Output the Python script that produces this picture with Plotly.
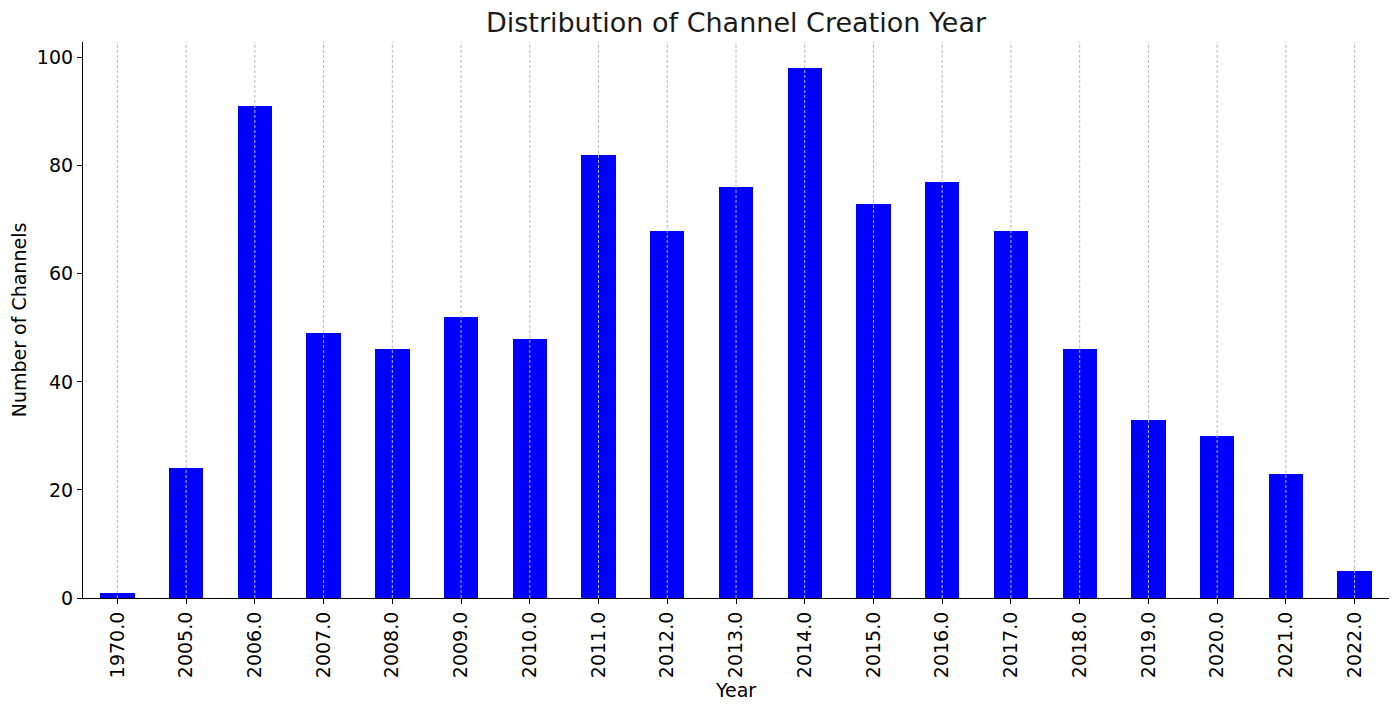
import plotly.graph_objects as go

years = ["1970.0", "2005.0", "2006.0", "2007.0", "2008.0", "2009.0", "2010.0",
         "2011.0", "2012.0", "2013.0", "2014.0", "2015.0", "2016.0", "2017.0",
         "2018.0", "2019.0", "2020.0", "2021.0", "2022.0"]
counts = [1, 24, 91, 49, 46, 52, 48, 82, 68, 76, 98, 73, 77, 68, 46, 33, 30, 23, 5]
y_ticks = [0, 20, 40, 60, 80, 100]
y_max = 102.9

FONT = "DejaVu Sans"

fig = go.Figure()
fig.add_trace(go.Bar(x=years, y=counts, width=0.5,
                     marker=dict(color="#0000ff", line=dict(width=0)),
                     hoverinfo="x+y"))

# dashed vertical grid lines drawn above the bars (as in the reference)
gx, gy = [], []
for yr in years:
    gx += [yr, yr, None]
    gy += [0, y_max, None]
fig.add_trace(go.Scatter(x=gx, y=gy, mode="lines", hoverinfo="skip",
                         line=dict(color="#b8b8b8", width=1, dash="3px,2px")))

# the page body has an 8px margin, so compensate in the figure margins
fig.update_layout(
    width=1400, height=713,
    margin=dict(l=75, r=19, t=34, b=123),
    plot_bgcolor="white", paper_bgcolor="white",
    font=dict(family=FONT, size=19, color="#000000"),
    title=dict(text="Distribution of Channel Creation Year", x=0.5, xref="paper",
               xanchor="center", y=1 - 15 / 713, yanchor="middle",
               font=dict(size=27, color="#1a1a1a")),
    showlegend=False,
    bargap=0,
    xaxis=dict(type="category", range=[-0.5, len(years) - 0.5],
               showgrid=False, showline=True, linecolor="black", linewidth=1.2,
               ticks="outside", ticklen=5, tickwidth=1.1, tickcolor="black",
               tickangle=-90, tickfont=dict(size=19),
               title=dict(text="Year", font=dict(size=19), standoff=6),
               automargin=False, zeroline=False),
    yaxis=dict(range=[0, y_max], tickvals=y_ticks, showgrid=False,
               showline=True, linecolor="black", linewidth=1.2,
               ticks="outside", ticklen=5, tickwidth=1.1, tickcolor="black",
               tickfont=dict(size=19),
               title=dict(text="Number of Channels", font=dict(size=19), standoff=15),
               automargin=False, zeroline=False),
)

fig.write_html("out.html")
